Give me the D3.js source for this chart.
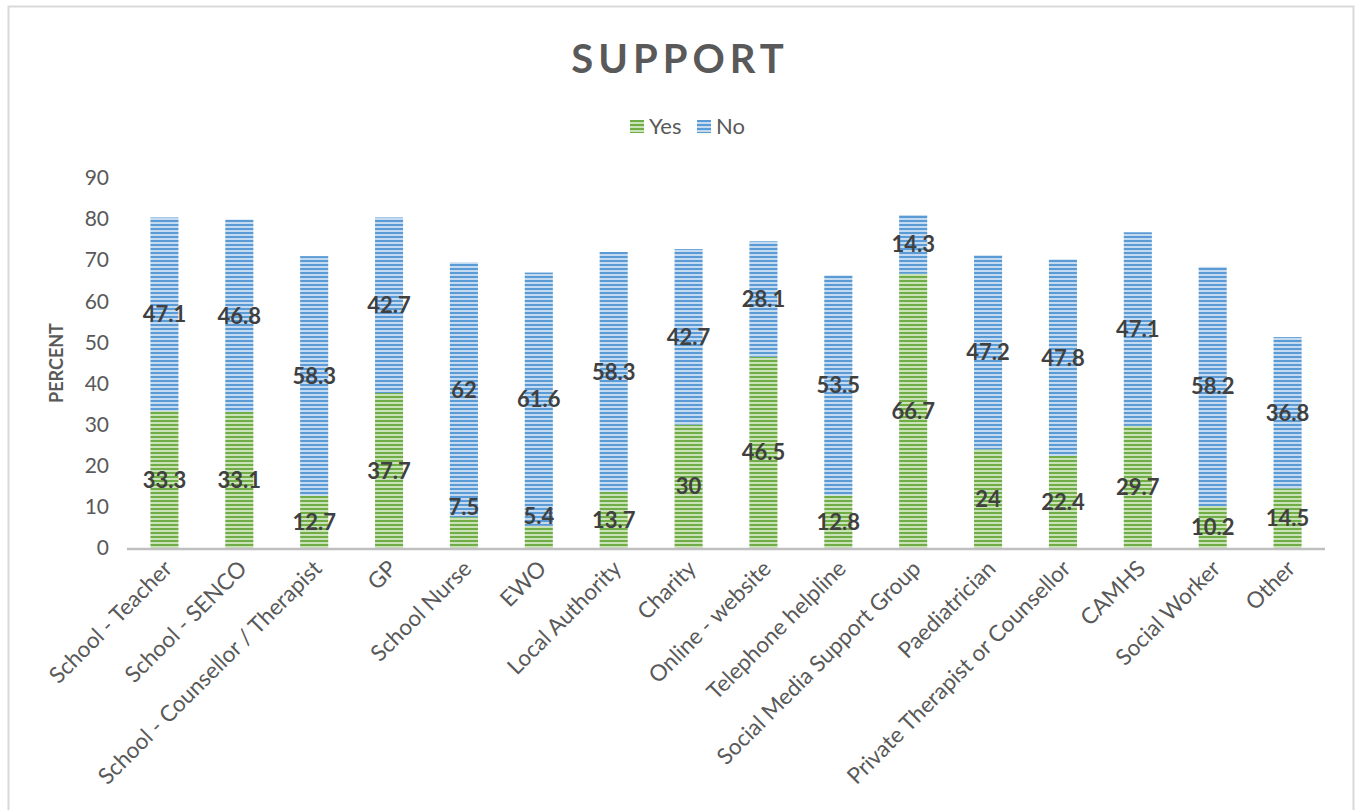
<!DOCTYPE html>
<html><head><meta charset="utf-8">
<script src="https://cdn.jsdelivr.net/npm/d3@7"></script>
<style>body{margin:0;background:#fff}svg{display:block}</style>
</head><body>
<script>
const categories = ["School - Teacher","School - SENCO","School - Counsellor / Therapist","GP","School Nurse","EWO","Local Authority","Charity","Online - website","Telephone helpline","Social Media Support Group","Paediatrician","Private Therapist or Counsellor","CAMHS","Social Worker","Other"];
const yesValues = [33.3,33.1,12.7,37.7,7.5,5.4,13.7,30,46.5,12.8,66.7,24,22.4,29.7,10.2,14.5];
const noValues  = [47.1,46.8,58.3,42.7,62,61.6,58.3,42.7,28.1,53.5,14.3,47.2,47.8,47.1,58.2,36.8];
const yTicks = [0,10,20,30,40,50,60,70,80,90];
const seriesNames = ["Yes","No"];

const W=1357,H=810;
const svg=d3.select("body").append("svg").attr("width",W).attr("height",H);
const defs=svg.append("defs");
function stripe(id,dark,light){
  const p=defs.append("pattern").attr("id",id).attr("patternUnits","userSpaceOnUse").attr("width",8).attr("height",4);
  p.append("rect").attr("width",8).attr("height",4).attr("fill",light);
  p.append("rect").attr("y",0).attr("width",8).attr("height",2).attr("fill",dark);
}
stripe("pYes","#70AD47","#C9E2B8");
stripe("pNo","#5B9BD5","#C3DAF0");
const fills={Yes:"url(#pYes)",No:"url(#pNo)"};

svg.append("rect").attr("x",8.5).attr("y",6.5).attr("width",1345).attr("height",820)
  .attr("fill","none").attr("stroke","#D9D9D9").attr("stroke-width",2);

const plot={left:127,right:1325,top:178,bottom:548};
const x=d3.scaleBand().domain(categories).range([plot.left,plot.right]).paddingInner(0.625).paddingOuter(0.3125);
const y=d3.scaleLinear().domain([0,90]).range([plot.bottom,plot.top]);

const rows=categories.map((c,i)=>({cat:c,Yes:yesValues[i],No:noValues[i]}));
const stack=d3.stack().keys(seriesNames)(rows);

const font="Lato, 'Open Sans', sans-serif";

// title
svg.append("text").attr("x",680).attr("y",73).attr("text-anchor","middle")
  .attr("font-family",font).attr("font-weight","bold").attr("font-size",40)
  .attr("letter-spacing",5).attr("fill","#595959").text("SUPPORT");

// legend
const lg=svg.append("g");
[{k:"Yes",bx:630,tx:649},{k:"No",bx:697,tx:716}].forEach(d=>{
  lg.append("rect").attr("x",d.bx).attr("y",120).attr("width",14).attr("height",13).attr("fill",fills[d.k]);
  lg.append("text").attr("x",d.tx).attr("y",134).attr("font-family",font).attr("font-size",22).attr("fill","#595959").text(d.k);
});

// y axis ticks
const ya=svg.append("g").attr("transform",`translate(${plot.left},0)`)
  .call(d3.axisLeft(y).tickValues(yTicks).tickSize(0).tickPadding(18));
ya.select(".domain").remove();
ya.selectAll("text").attr("font-family",font).attr("font-size",21).attr("fill","#595959");

svg.append("text").attr("transform",`translate(63,363) rotate(-90)`).attr("text-anchor","middle")
  .attr("font-family",font).attr("font-weight","bold").attr("font-size",18).attr("fill","#595959").text("PERCENT");

// bars
stack.forEach(s=>{
  svg.append("g").selectAll("rect").data(s).join("rect")
    .attr("x",d=>x(d.data.cat)).attr("width",x.bandwidth())
    .attr("y",d=>y(d[1])).attr("height",d=>y(d[0])-y(d[1]))
    .attr("fill",fills[s.key]);
});

// axis line
svg.append("line").attr("x1",plot.left).attr("x2",plot.right).attr("y1",plot.bottom+1).attr("y2",plot.bottom+1)
  .attr("stroke","#BFBFBF").attr("stroke-width",2.5);

// x labels
const xa=svg.append("g").attr("transform",`translate(0,${plot.bottom})`)
  .call(d3.axisBottom(x).tickSize(0));
xa.select(".domain").remove();
xa.selectAll("text").attr("font-family",font).attr("font-size",22.5).attr("fill","#595959")
  .attr("text-anchor","end").attr("dy",null).attr("y",0)
  .attr("transform","translate(9,22) rotate(-45)");

// value labels
stack.forEach(s=>{
  svg.append("g").selectAll("text").data(s).join("text")
    .attr("x",d=>x(d.data.cat)+x.bandwidth()/2)
    .attr("y",d=>{
      const h=y(d[0])-y(d[1]);
      const c=(y(d[0])+y(d[1]))/2;
      return (h<36? y(d[1])-10 : c)+8;
    })
    .attr("text-anchor","middle").attr("font-family",font).attr("font-weight","bold")
    .attr("font-size",22).attr("fill","#404040").text(d=>d[1]-d[0]>0? +(d.data[s.key]) : "");
});
</script>
</body></html>
